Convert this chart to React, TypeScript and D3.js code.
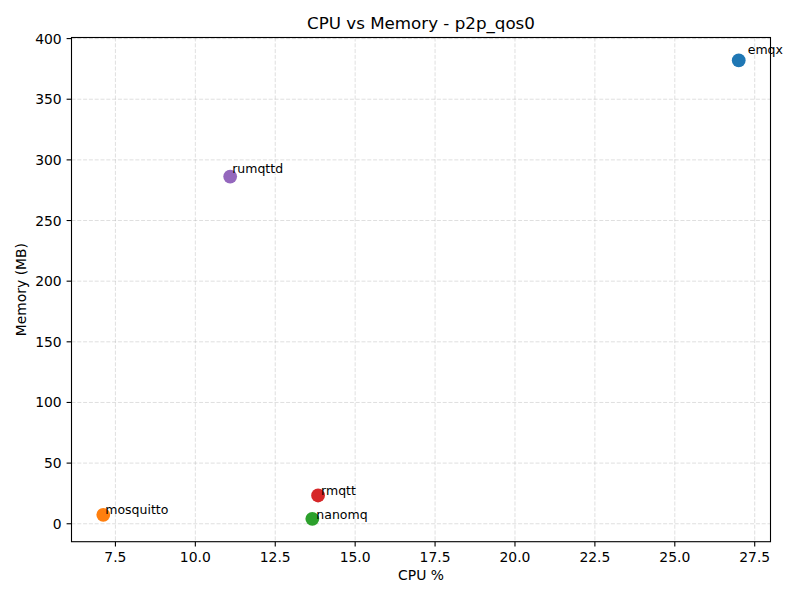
import React from "react";
import * as d3 from "d3";

const brokers = ["emqx", "mosquitto", "nanomq", "rmqtt", "rumqttd"];
const cpuValues = [27.0, 7.12, 13.66, 13.84, 11.09];
const memValues = [382.0, 7.4, 4.1, 23.3, 286.2];
const colors = ["#1f77b4", "#ff7f0e", "#2ca02c", "#d62728", "#9467bd"];
const labelOffsets: [number, number][] = [[9, -6], [2, -1], [4, 0], [3, 0], [2, -4]];
const xTicks = [7.5, 10.0, 12.5, 15.0, 17.5, 20.0, 22.5, 25.0, 27.5];
const yTicks = [0, 50, 100, 150, 200, 250, 300, 350, 400];

const W = 800, H = 600;
const left = 71.5, right = 770.5, top = 37.5, bottom = 541.7;
const font = "DejaVu Sans, sans-serif";

function padded(vals: number[]): [number, number] {
  const [a, b] = d3.extent(vals) as [number, number];
  const m = (b - a) * 0.05;
  return [a - m, b + m];
}

export default function App() {
  const x = d3.scaleLinear().domain(padded(cpuValues)).range([left, right]);
  const y = d3.scaleLinear().domain(padded(memValues)).range([bottom, top]);
  const cx = (left + right) / 2;
  const cy = (top + bottom) / 2;
  return (
    <svg width={W} height={H} style={{ position: "absolute", left: 0, top: 0, background: "#fff" }} fontFamily={font}>
      <rect x={0} y={0} width={W} height={H} fill="#fff" />
      {/* grid */}
      {xTicks.map((t) => (
        <line key={"gx" + t} x1={x(t)} x2={x(t)} y1={top} y2={bottom} stroke="#b0b0b0" strokeOpacity={0.5} strokeWidth={0.8} strokeDasharray="4,1.8" />
      ))}
      {yTicks.map((t) => (
        <line key={"gy" + t} x1={left} x2={right} y1={y(t)} y2={y(t)} stroke="#b0b0b0" strokeOpacity={0.5} strokeWidth={0.8} strokeDasharray="4,1.8" />
      ))}
      {/* points */}
      {brokers.map((b, i) => (
        <circle key={b} cx={x(cpuValues[i])} cy={y(memValues[i])} r={6.9} fill={colors[i]} />
      ))}
      {brokers.map((b, i) => (
        <text key={"l" + b} x={x(cpuValues[i]) + labelOffsets[i][0]} y={y(memValues[i]) + labelOffsets[i][1]} fontSize={12.5} fill="#000">
          {b}
        </text>
      ))}
      {/* frame */}
      <rect x={left} y={top} width={right - left} height={bottom - top} fill="none" stroke="#000" strokeWidth={1.1} />
      {/* x ticks */}
      {xTicks.map((t) => (
        <g key={"xt" + t}>
          <line x1={x(t)} x2={x(t)} y1={bottom} y2={bottom + 4.9} stroke="#000" strokeWidth={1.1} />
          <text x={x(t)} y={562} textAnchor="middle" fontSize={13.9}>{t.toFixed(1)}</text>
        </g>
      ))}
      {yTicks.map((t) => (
        <g key={"yt" + t}>
          <line x1={left - 4.9} x2={left} y1={y(t)} y2={y(t)} stroke="#000" strokeWidth={1.1} />
          <text x={left - 9.8} y={y(t)} dy="0.36em" textAnchor="end" fontSize={13.9}>{t}</text>
        </g>
      ))}
      <text x={cx} y={580} textAnchor="middle" fontSize={13.9}>CPU %</text>
      <text transform={`translate(26,${cy}) rotate(-90)`} textAnchor="middle" fontSize={13.9}>Memory (MB)</text>
      <text x={cx} y={29} textAnchor="middle" fontSize={16.7}>CPU vs Memory - p2p_qos0</text>
    </svg>
  );
}
